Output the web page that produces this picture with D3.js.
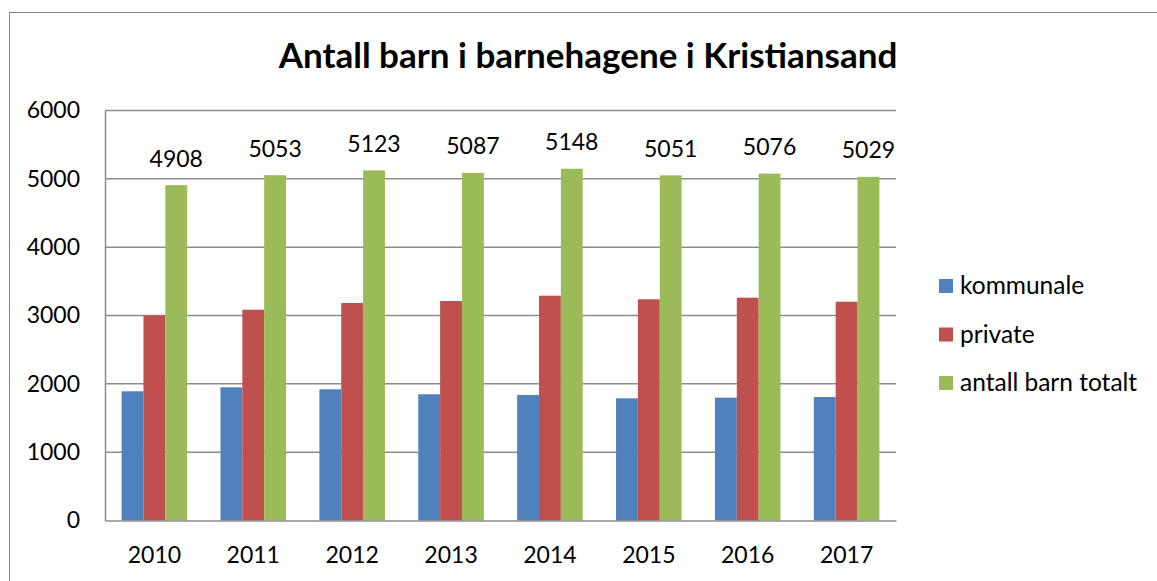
<!DOCTYPE html>
<html>
<head>
<meta charset="utf-8">
<script src="https://cdn.jsdelivr.net/npm/d3@7"></script>
<style>
  body { margin: 0; background: #fff; }
  svg { display: block; font-family: Lato, "Open Sans", sans-serif; }
</style>
</head>
<body>
<div class="data_figure"></div>
<script>
// chart data
const years = ["2010", "2011", "2012", "2013", "2014", "2015", "2016", "2017"];
const seriesNames = ["kommunale", "private", "antall barn totalt"];
const kommunale = [1891, 1949, 1920, 1847, 1837, 1788, 1797, 1807];
const privateVals = [3000, 3085, 3183, 3212, 3290, 3237, 3261, 3202];
const totalt = [4908, 5053, 5123, 5087, 5148, 5051, 5076, 5029];
const yTicks = [0, 1000, 2000, 3000, 4000, 5000, 6000];

const colors = ["#4F81BD", "#C0504D", "#9BBB59"];

const width = 1157,
      height = 581;

const margin = {
    top: 110.5,
    bottom: 60.5,
    left: 105,
    right: 261,
}

const plotW = width - margin.left - margin.right,
      plotH = height - margin.top - margin.bottom;

const gridColor = "#8c8c8c";
const numSize = "23px";

let rows = years.map((y, i) => ({
    year: y,
    values: [kommunale[i], privateVals[i], totalt[i]]
}));

let svg = d3.select(".data_figure")
            .append("svg")
            .attr("width", width)
            .attr("height", height);

// outer frame (only top and left edges show in the picture)
svg.append("rect")
    .attr("x", 9.5)
    .attr("y", 12.5)
    .attr("width", width + 20)
    .attr("height", height + 20)
    .attr("fill", "none")
    .attr("stroke", "#878787")
    .attr("stroke-width", 1);

const xScale = d3.scaleBand()
        .domain(years)
        .range([margin.left, margin.left + plotW])
        .paddingInner(0.337)
        .paddingOuter(0.168);

const xInner = d3.scaleBand()
        .domain(d3.range(seriesNames.length))
        .range([0, xScale.bandwidth()]);

const yScale = d3.scaleLinear()
        .domain([0, 6000])
        .range([margin.top + plotH, margin.top]);

// gridlines
svg.append("g")
    .attr("class", "grid")
    .selectAll("line")
    .data(yTicks.filter(d => d > 0))
    .enter()
    .append("line")
    .attr("x1", margin.left)
    .attr("x2", margin.left + plotW)
    .attr("y1", d => yScale(d))
    .attr("y2", d => yScale(d))
    .attr("stroke", gridColor)
    .attr("stroke-width", 1.5);

// bars
let groups = svg.selectAll(".yearGroup")
    .data(rows)
    .enter()
    .append("g")
    .attr("class", "yearGroup")
    .attr("transform", d => "translate(" + xScale(d.year) + ",0)");

groups.selectAll("rect")
    .data(d => d.values)
    .enter()
    .append("rect")
    .attr("x", (d, i) => xInner(i))
    .attr("y", d => yScale(d))
    .attr("width", xInner.bandwidth())
    .attr("height", d => yScale(0) - yScale(d))
    .attr("fill", (d, i) => colors[i]);

// value labels on the totals
groups.append("text")
    .text(d => d.values[2])
    .attr("x", xInner(2) + xInner.bandwidth() / 2)
    .attr("y", d => yScale(d.values[2]) - 18.5)
    .attr("text-anchor", "middle")
    .attr("fill", "#000")
    .style("font-size", numSize);

// y axis
let yAxis = svg.append("g")
    .attr("id", "y-axis")
    .attr("transform", "translate(" + margin.left + ",0)")
    .call(d3.axisLeft(yScale).tickValues(yTicks).tickFormat(d3.format("d")).tickSize(0).tickPadding(25));
yAxis.select(".domain").attr("stroke", gridColor).attr("stroke-width", 1.5);
yAxis.selectAll("text").style("font-size", numSize).style("font-family", "Lato").attr("fill", "#000");

// x axis
let xAxis = svg.append("g")
    .attr("id", "x-axis")
    .attr("transform", "translate(0," + (margin.top + plotH) + ")")
    .call(d3.axisBottom(xScale).tickSize(0).tickPadding(26));
xAxis.select(".domain").attr("stroke", gridColor).attr("stroke-width", 1.5);
xAxis.selectAll("text").style("font-size", numSize).style("font-family", "Lato").attr("fill", "#000");

// title
svg.append("text")
    .text("Antall barn i barnehagene i Kristiansand")
    .attr("x", 588)
    .attr("y", 68)
    .attr("text-anchor", "middle")
    .style("font-size", "35px")
    .style("font-weight", "bold")
    .attr("fill", "#000");

// legend
let legend = svg.append("g").attr("id", "legend");

legend.selectAll("rect")
    .data(seriesNames)
    .enter()
    .append("rect")
    .attr("x", 939)
    .attr("y", (d, i) => 279 + i * 48.5)
    .attr("width", 14)
    .attr("height", 14)
    .attr("fill", (d, i) => colors[i]);

legend.selectAll("text")
    .data(seriesNames)
    .enter()
    .append("text")
    .text(d => d)
    .attr("x", 960)
    .attr("y", (d, i) => 294 + i * 48.5)
    .attr("fill", "#000")
    .style("font-size", "24.5px");
</script>
</body>
</html>
